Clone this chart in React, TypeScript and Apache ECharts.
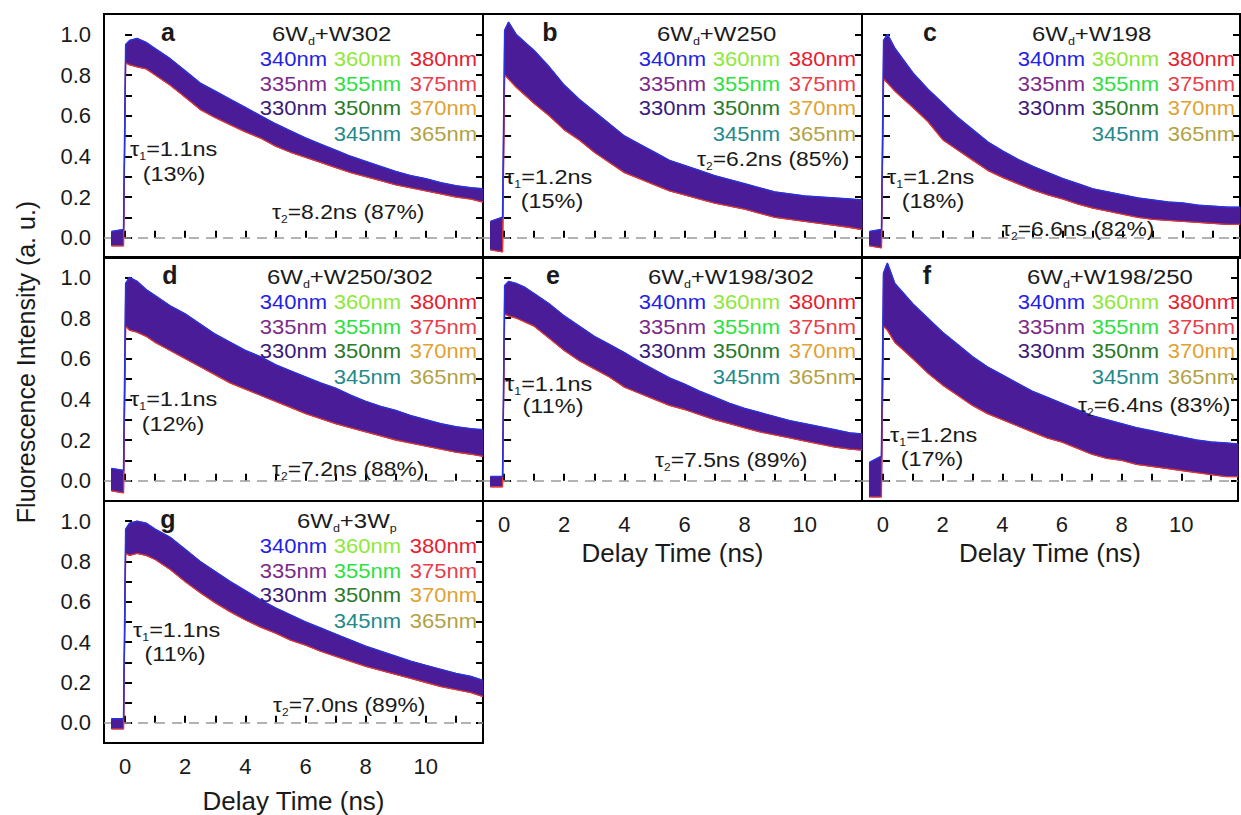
import React, { useEffect, useRef } from 'react';
import * as echarts from 'echarts';

// ---------- DATA ----------
const time = [-0.45, -0.05, 0.02, 0.15, 0.4, 0.7, 1, 1.5, 2, 2.5, 3, 3.5, 4, 4.5, 5, 5.5, 6, 6.5, 7, 7.5, 8, 8.5, 9, 9.5, 10, 10.5, 11, 11.5, 11.9];

const upperA = [0.03, 0.04, 0.95, 0.97, 0.98, 0.96, 0.93, 0.88, 0.82, 0.76, 0.72, 0.68, 0.64, 0.60, 0.56, 0.525, 0.49, 0.46, 0.43, 0.40, 0.375, 0.35, 0.325, 0.305, 0.29, 0.27, 0.255, 0.245, 0.24];
const lowerA = [-0.04, -0.04, 0.86, 0.85, 0.84, 0.83, 0.80, 0.75, 0.69, 0.63, 0.59, 0.555, 0.52, 0.49, 0.45, 0.42, 0.395, 0.37, 0.345, 0.32, 0.30, 0.28, 0.26, 0.245, 0.23, 0.215, 0.20, 0.19, 0.175];

const upperB = [0.08, 0.10, 1.02, 1.06, 1.00, 0.96, 0.92, 0.84, 0.75, 0.68, 0.62, 0.56, 0.50, 0.46, 0.42, 0.38, 0.355, 0.33, 0.305, 0.285, 0.265, 0.245, 0.225, 0.215, 0.205, 0.20, 0.195, 0.19, 0.185];
const lowerB = [-0.06, -0.07, 0.80, 0.78, 0.74, 0.70, 0.66, 0.60, 0.53, 0.48, 0.42, 0.37, 0.32, 0.29, 0.26, 0.23, 0.21, 0.19, 0.17, 0.155, 0.14, 0.12, 0.10, 0.09, 0.08, 0.07, 0.06, 0.05, 0.04];

const upperC = [0.03, 0.04, 0.97, 1.00, 0.93, 0.87, 0.81, 0.73, 0.66, 0.59, 0.53, 0.47, 0.425, 0.385, 0.35, 0.32, 0.29, 0.265, 0.24, 0.225, 0.21, 0.195, 0.185, 0.175, 0.17, 0.16, 0.155, 0.15, 0.15];
const lowerC = [-0.04, -0.05, 0.78, 0.76, 0.72, 0.68, 0.64, 0.57, 0.48, 0.43, 0.38, 0.33, 0.295, 0.265, 0.235, 0.21, 0.19, 0.165, 0.145, 0.13, 0.115, 0.10, 0.09, 0.085, 0.08, 0.075, 0.07, 0.065, 0.065];

const upperD = [0.06, 0.05, 0.97, 1.00, 0.98, 0.94, 0.91, 0.86, 0.82, 0.77, 0.72, 0.68, 0.64, 0.61, 0.57, 0.54, 0.51, 0.48, 0.455, 0.42, 0.39, 0.365, 0.345, 0.32, 0.30, 0.28, 0.265, 0.255, 0.25];
const lowerD = [-0.05, -0.06, 0.76, 0.74, 0.73, 0.71, 0.68, 0.64, 0.60, 0.56, 0.52, 0.48, 0.45, 0.42, 0.39, 0.36, 0.33, 0.305, 0.28, 0.26, 0.24, 0.22, 0.20, 0.185, 0.17, 0.155, 0.14, 0.13, 0.12];

const upperE = [0.02, 0.02, 0.96, 0.98, 0.97, 0.95, 0.92, 0.87, 0.81, 0.76, 0.71, 0.67, 0.63, 0.585, 0.545, 0.505, 0.475, 0.44, 0.41, 0.38, 0.355, 0.335, 0.315, 0.295, 0.28, 0.265, 0.25, 0.235, 0.23];
const lowerE = [-0.03, -0.03, 0.82, 0.81, 0.80, 0.78, 0.76, 0.70, 0.64, 0.59, 0.55, 0.51, 0.46, 0.43, 0.40, 0.37, 0.35, 0.325, 0.30, 0.28, 0.26, 0.24, 0.225, 0.21, 0.195, 0.18, 0.165, 0.155, 0.15];

const upperF = [0.09, 0.12, 1.02, 1.07, 0.97, 0.92, 0.87, 0.80, 0.73, 0.67, 0.61, 0.56, 0.52, 0.48, 0.44, 0.41, 0.38, 0.35, 0.32, 0.30, 0.28, 0.26, 0.245, 0.23, 0.215, 0.20, 0.19, 0.185, 0.18];
const lowerF = [-0.08, -0.08, 0.76, 0.74, 0.68, 0.64, 0.60, 0.53, 0.47, 0.42, 0.37, 0.33, 0.30, 0.27, 0.24, 0.21, 0.19, 0.16, 0.13, 0.11, 0.10, 0.08, 0.07, 0.06, 0.05, 0.04, 0.03, 0.02, 0.02];

const upperG = [0.02, 0.02, 0.96, 0.99, 1.00, 0.99, 0.96, 0.92, 0.86, 0.80, 0.75, 0.70, 0.655, 0.61, 0.57, 0.535, 0.50, 0.47, 0.44, 0.41, 0.38, 0.355, 0.33, 0.305, 0.285, 0.265, 0.245, 0.23, 0.21];
const lowerG = [-0.03, -0.03, 0.84, 0.83, 0.84, 0.83, 0.81, 0.76, 0.70, 0.645, 0.595, 0.55, 0.51, 0.475, 0.445, 0.41, 0.385, 0.355, 0.33, 0.305, 0.28, 0.26, 0.24, 0.22, 0.20, 0.18, 0.165, 0.15, 0.13];

const panelUpper = [upperA, upperB, upperC, upperD, upperE, upperF, upperG];
const panelLower = [lowerA, lowerB, lowerC, lowerD, lowerE, lowerF, lowerG];

const panelLetters = ['a', 'b', 'c', 'd', 'e', 'f', 'g'];
const samplePrefix = ['6W', '6W', '6W', '6W', '6W', '6W', '6W'];
const sampleSub1 = ['d', 'd', 'd', 'd', 'd', 'd', 'd'];
const sampleSuffix = ['+W302', '+W250', '+W198', '+W250/302', '+W198/302', '+W198/250', '+3W'];
const sampleSub2 = ['', '', '', '', '', '', 'p'];
const tau1Values = ['1.1', '1.2', '1.2', '1.1', '1.1', '1.2', '1.1'];
const tau1Shares = ['13%', '15%', '18%', '12%', '11%', '17%', '11%'];
const tau2Values = ['8.2', '6.2', '6.6', '7.2', '7.5', '6.4', '7.0'];
const tau2Shares = ['87%', '85%', '82%', '88%', '89%', '83%', '89%'];

const wavelengthLabels = ['340nm', '360nm', '380nm', '335nm', '355nm', '375nm', '330nm', '350nm', '370nm', '345nm', '365nm'];
const wavelengthColors = ['#2222e6', '#8ee83a', '#e8202e', '#7c2a8a', '#2ee040', '#e8404a', '#3a1a7c', '#2a7a2a', '#e0a232', '#228a8a', '#b2a244'];

const xTickLabels = ['0', '2', '4', '6', '8', '10'];
const yTickLabels = ['0.0', '0.2', '0.4', '0.6', '0.8', '1.0'];
const xAxisTitle = 'Delay Time (ns)';
const yAxisTitle = 'Fluorescence Intensity (a. u.)';

// ---------- LAYOUT ----------
const FONT = '"Liberation Sans", Arial, Helvetica, sans-serif';
const INK = '#1a1a1a';
const COL_LEFT = [104, 483, 862];
const ROW_TOP = [14, 257, 501];
const PANEL_W = [379, 379, 378];
const PANEL_H = 244;
const panelCell = [[0, 0], [1, 0], [2, 0], [0, 1], [1, 1], [2, 1], [0, 2]];
const showXLabels = [false, false, false, false, true, true, true];
const xNameGap = [0, 0, 0, 0, 39, 39, 45];
const legendSlots = [[0, 0], [1, 0], [2, 0], [0, 1], [1, 1], [2, 1], [0, 2], [1, 2], [2, 2], [1, 3], [2, 3]];
const LEGEND_COL_RIGHT = [223, 297, 373];
const LEGEND_ROW_Y = [45, 70, 94, 120];
const letterX = [64, 67, 68, 66, 70, 65, 64];
const titleX = [168, 174, 170, 163, 165, 165, 193];
const tau1Pos = [[26, 133], [22, 161], [25, 161], [26, 140], [22, 125], [28, 176], [29, 127]];
const share1Pos = [[70, 159], [69, 186], [71, 186], [69, 166], [70, 148], [70, 201], [71, 152]];
const tau2Pos = [[168, 196], [214, 143], [140, 213], [168, 210], [172, 201], [216, 146], [169, 202]];
const WIDE = 1.12; // the reference's lettering is a little wider than Liberation Sans

const BAND = '#4a1c98';
const UPPER_EDGE = '#2a32dc';
const LOWER_EDGE = '#e2382c';

const rich = {
  m: { fontSize: 21, fontFamily: FONT, color: INK },
  s: { fontSize: 11, fontFamily: FONT, color: INK, padding: [14, 0, 0, 0] },
};

function buildOption() {
  const grid: any[] = [];
  const xAxis: any[] = [];
  const yAxis: any[] = [];
  const series: any[] = [];
  const graphic: any[] = [];

  panelUpper.forEach((upper, i) => {
    const [c, r] = panelCell[i];
    const L = COL_LEFT[c];
    const T = ROW_TOP[r];
    const lower = panelLower[i];
    grid.push({ left: L, top: T, width: PANEL_W[c], height: PANEL_H, show: true, borderColor: '#000', borderWidth: 2, backgroundColor: 'transparent' });
    const tick = { show: true, inside: true, length: 7, lineStyle: { color: '#000', width: 2 } };
    xAxis.push({
      type: 'value', gridIndex: i, min: -0.7, max: 11.9, minInterval: 1, maxInterval: 1,
      splitLine: { show: false }, axisLine: { show: false }, axisTick: tick,
      axisLabel: {
        show: showXLabels[i], margin: 12, fontSize: 22, color: INK, fontFamily: FONT,
        formatter: (v: number) => {
          const rv = Math.round(v);
          if (Math.abs(v - rv) > 1e-6) return '';
          return xTickLabels.includes(String(rv)) ? String(rv) : '';
        },
      },
      name: showXLabels[i] ? xAxisTitle : '', nameLocation: 'middle', nameGap: xNameGap[i],
      nameTextStyle: { fontSize: 26, color: INK, fontFamily: FONT },
    });
    const yFmt = (v: number) => {
      const s = v.toFixed(1);
      return yTickLabels.includes(s) && Math.abs(v - parseFloat(s)) < 1e-6 ? s : '';
    };
    yAxis.push({
      type: 'value', gridIndex: i, min: -0.1, max: 1.1, interval: 0.1, position: 'left',
      splitLine: { show: false }, axisLine: { show: false }, axisTick: tick,
      axisLabel: { show: c === 0, margin: 13, fontSize: 22, color: INK, fontFamily: FONT, formatter: yFmt },
    });
    yAxis.push({
      type: 'value', gridIndex: i, min: -0.1, max: 1.1, interval: 0.1, position: 'right',
      splitLine: { show: false }, axisLine: { show: false }, axisTick: tick,
      axisLabel: { show: false },
    });

    // band of the overlapping traces (between lower and upper envelopes)
    series.push({
      type: 'custom', xAxisIndex: i, yAxisIndex: 2 * i, z: 2,
      data: time.map((t, k) => [t, lower[k], upper[k]]),
      encode: { x: 0, y: [1, 2] },
      renderItem: (params: any, api: any) => {
        if (params.dataIndex !== 0) return null;
        const pts: number[][] = [];
        for (let k = 0; k < time.length; k++) pts.push(api.coord([time[k], upper[k]]));
        for (let k = time.length - 1; k >= 0; k--) pts.push(api.coord([time[k], lower[k]]));
        return { type: 'polygon', shape: { points: pts }, style: { fill: BAND, stroke: BAND, lineWidth: 1 } };
      },
      markLine: {
        silent: true, symbol: ['none', 'none'], label: { show: false }, z: 1,
        lineStyle: { color: '#9a9a9a', type: [10, 7], width: 1.6 },
        data: [{ yAxis: 0 }],
      },
    });
    series.push({
      type: 'line', xAxisIndex: i, yAxisIndex: 2 * i, z: 3,
      data: time.map((t, k) => [t, lower[k]]), symbol: 'none',
      lineStyle: { color: LOWER_EDGE, width: 1.3 },
    });
    series.push({
      type: 'line', xAxisIndex: i, yAxisIndex: 2 * i, z: 3,
      data: time.map((t, k) => [t, upper[k]]), symbol: 'none',
      lineStyle: { color: UPPER_EDGE, width: 1.5 },
    });

    // panel letter
    graphic.push({
      type: 'text', x: L + letterX[i], y: T + 18, z: 10,
      style: { text: panelLetters[i], fontSize: 25, fontWeight: 'bold', fontFamily: FONT, fill: INK, align: 'center', verticalAlign: 'middle' },
    });
    // sample title
    const titleText = '{m|' + samplePrefix[i] + '}{s|' + sampleSub1[i] + '}{m|' + sampleSuffix[i] + '}' + (sampleSub2[i] ? '{s|' + sampleSub2[i] + '}' : '');
    graphic.push({
      type: 'text', x: L + titleX[i], y: T + 20, z: 10, scaleX: 1.14,
      style: { text: titleText, rich, fontSize: 21, fontFamily: FONT, fill: INK, align: 'left', verticalAlign: 'middle' },
    });
    // legend
    wavelengthLabels.forEach((lab, j) => {
      const [lc, lr] = legendSlots[j];
      graphic.push({
        type: 'text', x: L + LEGEND_COL_RIGHT[lc], y: T + LEGEND_ROW_Y[lr], z: 10, scaleX: 1.1,
        style: { text: lab, fontSize: 20, fontFamily: FONT, fill: wavelengthColors[j], align: 'right', verticalAlign: 'middle' },
      });
    });
    // lifetimes
    graphic.push({
      type: 'text', x: L + tau1Pos[i][0], y: T + tau1Pos[i][1] + 2, z: 10, scaleX: WIDE,
      style: { text: '{m|τ}{s|1}{m|=' + tau1Values[i] + 'ns}', rich, fontSize: 21, fontFamily: FONT, fill: INK, align: 'left', verticalAlign: 'middle' },
    });
    graphic.push({
      type: 'text', x: L + share1Pos[i][0], y: T + share1Pos[i][1] + 1, z: 10, scaleX: WIDE,
      style: { text: '(' + tau1Shares[i] + ')', fontSize: 21, fontFamily: FONT, fill: INK, align: 'center', verticalAlign: 'middle' },
    });
    graphic.push({
      type: 'text', x: L + tau2Pos[i][0], y: T + tau2Pos[i][1] + 2, z: 10, scaleX: 1.09,
      style: { text: '{m|τ}{s|2}{m|=' + tau2Values[i] + 'ns (' + tau2Shares[i] + ')}', rich, fontSize: 21, fontFamily: FONT, fill: INK, align: 'left', verticalAlign: 'middle' },
    });
  });

  graphic.push({
    type: 'text', x: 26, y: 362, rotation: Math.PI / 2, z: 10,
    style: { text: yAxisTitle, fontSize: 25, fontFamily: FONT, fill: INK, align: 'center', verticalAlign: 'middle' },
  });

  return {
    animation: false,
    backgroundColor: '#ffffff',
    grid, xAxis, yAxis, series, graphic,
  };
}

export default function App() {
  const ref = useRef<HTMLDivElement>(null);
  useEffect(() => {
    document.body.style.margin = '0';
    if (!ref.current) return;
    const chart = echarts.init(ref.current, null, { renderer: 'svg' });
    chart.setOption(buildOption() as any);
    return () => chart.dispose();
  }, []);
  return <div ref={ref} style={{ width: 1241, height: 815 }} />;
}
